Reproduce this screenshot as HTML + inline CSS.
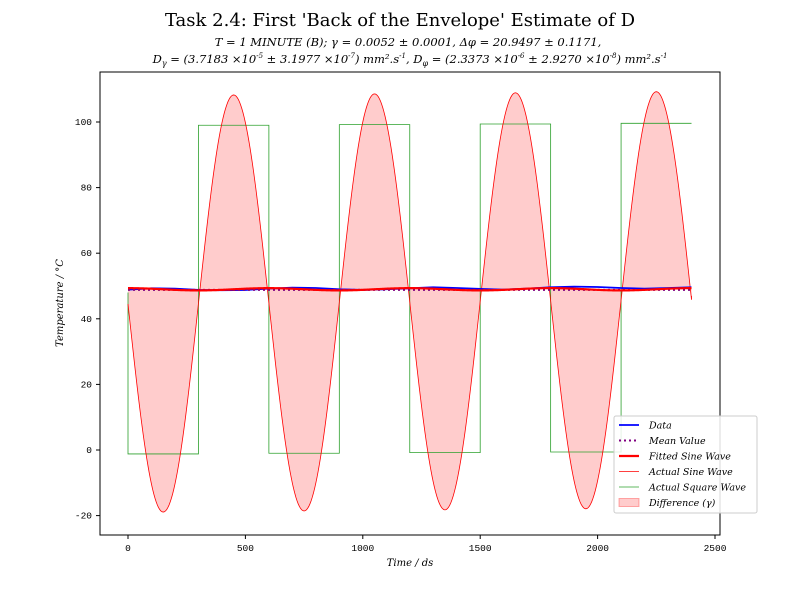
<!DOCTYPE html>
<html><head><meta charset="utf-8"><style>
body{margin:0;background:#fff;}
svg text{font-family:"DejaVu Serif","Liberation Serif",serif;}
</style></head><body>
<svg id="chart" width="800" height="600" xmlns="http://www.w3.org/2000/svg">
<rect width="800" height="600" fill="#fff"/>
<text x="400" y="26" text-anchor="middle" font-size="18">Task 2.4: First 'Back of the Envelope' Estimate of D</text>
<text x="408" y="46" text-anchor="middle" font-size="11.5" font-style="italic">T = 1 MINUTE (B); γ = 0.0052 ± 0.0001, Δφ = 20.9497 ± 0.1171,</text>
<text x="410" y="63" text-anchor="middle" font-size="11.5" font-style="italic">D<tspan font-size="8" dy="3">γ</tspan><tspan dy="-3"> = (3.7183 ×10</tspan><tspan font-size="7" dy="-5">-5</tspan><tspan dy="5"> ± 3.1977 ×10</tspan><tspan font-size="7" dy="-5">-7</tspan><tspan dy="5">) mm².s</tspan><tspan font-size="7" dy="-5">-1</tspan><tspan dy="5">, D</tspan><tspan font-size="8" dy="3">φ</tspan><tspan dy="-3"> = (2.3373 ×10</tspan><tspan font-size="7" dy="-5">-6</tspan><tspan dy="5"> ± 2.9270 ×10</tspan><tspan font-size="7" dy="-5">-8</tspan><tspan dy="5">) mm².s</tspan><tspan font-size="7" dy="-5">-1</tspan></text>
<g id="plot"></g>
<text x="410" y="566" text-anchor="middle" font-size="10" font-style="italic">Time / ds</text>
<text transform="translate(63,303) rotate(-90)" text-anchor="middle" font-size="10" font-style="italic">Temperature / °C</text>
</svg>
<script>
const xTicks=[0,500,1000,1500,2000,2500];
const yTicks=[-20,0,20,40,60,80,100];
const sineOffset=[44.5];
const sineDrift=[0.00055];
const sineAmp=[63.5];
const sinePeriod=[600];
const fitMean=[49];
const fitAmp=[0.35];
const meanValue=[48.8];
const sqTimes=[0,300,600,900,1200,1500,1800,2100,2400];
const sqLevels=[-1.2,99,-1.0,99.2,-0.8,99.4,-0.6,99.6];
const dataTimes=[0,100,200,300,400,500,600,700,800,900,1000,1100,1200,1300,1400,1500,1600,1700,1800,1900,2000,2100,2200,2300,2400];
const dataVals=[48.9,49.3,49.2,48.8,48.7,48.8,49.2,49.5,49.4,49.0,48.8,49.0,49.3,49.6,49.4,49.1,48.9,49.2,49.6,49.8,49.7,49.4,49.2,49.4,49.6];

const NS="http://www.w3.org/2000/svg";
const L=100,R=720,T=72,B=535;
const X=t=>128+t*(587/2500);
const Y=v=>450-v*3.28;
const g=document.getElementById('plot');
function mk(tag,attrs,parent){const e=document.createElementNS(NS,tag);for(const k in attrs)e.setAttribute(k,attrs[k]);(parent||g).appendChild(e);return e;}
const actual=t=>sineOffset[0]+sineDrift[0]*t-sineAmp[0]*Math.sin(2*Math.PI*t/sinePeriod[0]);
const fitted=t=>fitMean[0]-fitAmp[0]*Math.sin(2*Math.PI*(t-150)/sinePeriod[0]);
const N=480,tmax=2400;
const topPts=[],botPts=[];
for(let i=0;i<=N;i++){const t=tmax*i/N;topPts.push(X(t).toFixed(2)+','+Y(actual(t)).toFixed(2));botPts.push(X(t).toFixed(2)+','+Y(fitted(t)).toFixed(2));}
let e=mk('polygon',{points:topPts.concat(botPts.slice().reverse()).join(' '),fill:'#ff0000','fill-opacity':0.2,stroke:'none'});


let sq=[X(0)+','+Y(48)];
for(let i=0;i<sqLevels.length;i++){sq.push(X(sqTimes[i])+','+Y(sqLevels[i]));sq.push(X(sqTimes[i+1])+','+Y(sqLevels[i]));}
e=mk('polyline',{points:sq.join(' '),fill:'none',stroke:'#2ca02c','stroke-width':0.8});


e=mk('polyline',{points:topPts.join(' ')+' '+X(2400)+','+Y(47),fill:'none',stroke:'#ff0000','stroke-width':0.8});


e=mk('polyline',{points:dataTimes.map((t,i)=>X(t)+','+Y(dataVals[i])).join(' '),fill:'none',stroke:'#0000ff','stroke-width':1.8});


e=mk('line',{x1:X(0),x2:X(2400),y1:Y(meanValue[0]),y2:Y(meanValue[0]),stroke:'#800080','stroke-width':2,'stroke-dasharray':'2,3'});


e=mk('polyline',{points:botPts.join(' '),fill:'none',stroke:'#ff0000','stroke-width':2.2});


e=mk('rect',{x:L,y:T,width:R-L,height:B-T,fill:'none',stroke:'#000','stroke-width':1});


const mono='font-family:"Liberation Mono",monospace';
xTicks.forEach(v=>{let l=mk('line',{x1:X(v),x2:X(v),y1:B,y2:B+4,stroke:'#000'});
 
 
 let t=mk('text',{x:X(v),y:B+16,'text-anchor':'middle','font-size':9.5,style:mono});t.textContent=v;
 
 });
yTicks.forEach(v=>{let l=mk('line',{x1:L-4,x2:L,y1:Y(v),y2:Y(v),stroke:'#000'});
 
 
 let t=mk('text',{x:L-8,y:Y(v)+3,'text-anchor':'end','font-size':9.5,style:mono});t.textContent=v;
 
 });
const lg=mk('g',{});


mk('rect',{x:614,y:416,width:143,height:97,rx:2,fill:'#fff','fill-opacity':0.85,stroke:'#ccc'},lg);
const items=[['Data','#0000ff',1.8,''],['Mean Value','#800080',2,'2,3'],['Fitted Sine Wave','#ff0000',2.2,''],['Actual Sine Wave','#ff0000',0.8,''],['Actual Square Wave','#2ca02c',0.8,''],['Difference (γ)','fill','','']];
items.forEach((it,i)=>{const y=425+i*15.5;
 if(it[1]==='fill'){let r=mk('rect',{x:619,y:y-4,width:20,height:8,fill:'#ff0000','fill-opacity':0.2,stroke:'#ff0000','stroke-opacity':0.3},lg);
  
  }
 else{let l=mk('line',{x1:619,x2:639,y1:y,y2:y,stroke:it[1],'stroke-width':it[2],'stroke-dasharray':it[3]||'none'},lg);
  
  }
 let t=mk('text',{x:649,y:y+3.5,'font-size':9.5,'font-style':'italic'},lg);t.textContent=it[0];
 
 });
</script>
</body></html>
